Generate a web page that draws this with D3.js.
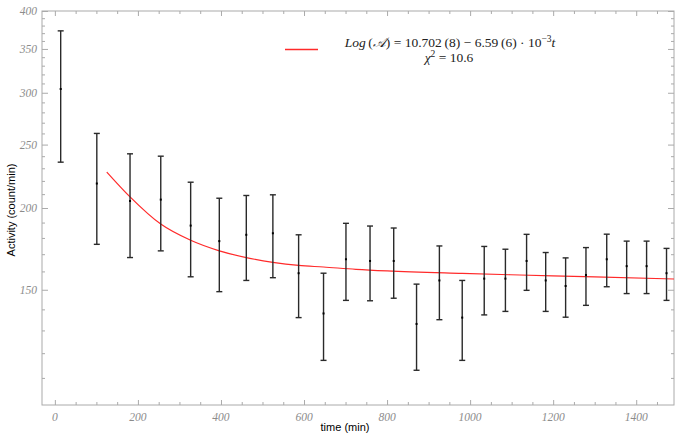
<!DOCTYPE html>
<html>
<head>
<meta charset="utf-8">
<script src="https://cdn.jsdelivr.net/npm/d3@7"></script>
<style>
  html, body { margin: 0; padding: 0; background: #fff; }
  svg { display: block; }
</style>
</head>
<body>
<svg id="chart" width="676" height="434"></svg>
<script>
// Measurement times (min), count rates (count/min) and their uncertainties
const times  = [14, 101, 181, 255, 327, 396, 461, 525, 587, 647, 701, 759, 816, 871, 926, 981, 1034, 1085, 1136, 1182, 1230, 1279, 1329, 1377, 1425, 1473];
const counts = [304, 218, 205, 206, 188, 178, 182, 183, 159, 138, 167, 166, 166, 133, 155, 136, 156, 156, 166, 155, 152, 158, 167, 163, 163, 159];
const errors = [69, 42, 37, 34, 31, 29, 27, 26.5, 23, 21, 22.5, 21.7, 20.4, 20, 20, 19, 18.7, 17, 16.3, 16, 15.8, 16, 15.4, 15, 15, 14.5];

// Fitted activity curve, sampled along t
const fitTimes  = [125, 181, 255, 327, 396, 461, 525, 587, 647, 725, 800, 981, 1120, 1300, 1491];
const fitValues = [227, 208, 189, 178.5, 172, 168, 165.2, 163.4, 162.5, 161.2, 160.3, 158.9, 158, 157, 155.8];

// Axis ticks
const xMajorTicks = [0, 200, 400, 600, 800, 1000, 1200, 1400];
const xMinorTicks = d3.range(0, 1491, 50).filter(v => v % 200 !== 0);
const yMajorTicks = [150, 200, 250, 300, 350, 400];
const yMinorTicks = d3.range(110, 400, 10).filter(v => v % 50 !== 0);

const serif = "'Liberation Serif', 'DejaVu Serif', serif";
const sans = "'Liberation Sans', Arial, sans-serif";

const svg = d3.select("#chart");
const plotLeft = 42, plotRight = 674, plotTop = 11, plotBottom = 405;

const x = d3.scaleLinear().domain([-31, 1491]).range([plotLeft, plotRight]);
const y = d3.scaleLog().domain([100, 400]).range([plotBottom, plotTop]);

const frameColor = "#aaaaaa";

// Frame
svg.append("rect")
  .attr("x", plotLeft).attr("y", plotTop)
  .attr("width", plotRight - plotLeft).attr("height", plotBottom - plotTop)
  .attr("fill", "none").attr("stroke", frameColor).attr("stroke-width", 1);

// Inward ticks on all four sides
function ticks(axisFn, scale, values, size, translate) {
  const g = svg.append("g")
    .attr("transform", translate)
    .call(axisFn(scale).tickValues(values).tickSize(size).tickFormat(""));
  g.select(".domain").remove();
  g.selectAll("line").attr("stroke", frameColor);
  return g;
}
ticks(d3.axisBottom, x, xMajorTicks, -5, `translate(0,${plotBottom})`);
ticks(d3.axisBottom, x, xMinorTicks, -3, `translate(0,${plotBottom})`);
ticks(d3.axisTop, x, xMajorTicks, -5, `translate(0,${plotTop})`);
ticks(d3.axisTop, x, xMinorTicks, -3, `translate(0,${plotTop})`);
ticks(d3.axisLeft, y, yMajorTicks, -6, `translate(${plotLeft},0)`);
ticks(d3.axisLeft, y, yMinorTicks, -3, `translate(${plotLeft},0)`);
ticks(d3.axisRight, y, yMajorTicks, -6, `translate(${plotRight},0)`);
ticks(d3.axisRight, y, yMinorTicks, -3, `translate(${plotRight},0)`);

// Tick labels
svg.append("g").selectAll("text")
  .data(xMajorTicks).join("text")
  .attr("font-family", serif).attr("font-style", "italic")
  .attr("font-size", 11.5).attr("fill", "#8c8c8c")
  .attr("x", d => x(d)).attr("y", 421)
  .attr("text-anchor", "middle")
  .text(d => d);

svg.append("g").selectAll("text")
  .data(yMajorTicks).join("text")
  .attr("font-family", serif).attr("font-style", "italic")
  .attr("font-size", 11.5).attr("fill", "#8c8c8c")
  .attr("x", 37).attr("y", d => y(d) + 4)
  .attr("text-anchor", "end")
  .text(d => d);

// Axis titles
svg.append("text")
  .attr("font-family", sans).attr("font-size", 11).attr("fill", "#000")
  .attr("x", 345).attr("y", 431)
  .attr("text-anchor", "middle")
  .text("time (min)");

svg.append("text")
  .attr("font-family", sans).attr("font-size", 11).attr("fill", "#000")
  .attr("transform", `translate(15,${210}) rotate(-90)`)
  .attr("text-anchor", "middle")
  .text("Activity (count/min)");

// Plot area clip
svg.append("clipPath").attr("id", "plot-clip")
  .append("rect").attr("x", plotLeft).attr("y", plotTop)
  .attr("width", plotRight - plotLeft).attr("height", plotBottom - plotTop);

const plot = svg.append("g").attr("clip-path", "url(#plot-clip)");

// Fit curve
const fitData = fitTimes.map((t, i) => [t, fitValues[i]]);
plot.append("path")
  .datum(fitData)
  .attr("fill", "none")
  .attr("stroke", "#ff2a2a")
  .attr("stroke-width", 1.2)
  .attr("d", d3.line().x(d => x(d[0])).y(d => y(d[1])).curve(d3.curveMonotoneX));

// Error bars
const points = times.map((t, i) => ({ t, v: counts[i], e: errors[i] }));
const bars = plot.append("g").selectAll("g").data(points).join("g");
const barColor = "#2a2a2a";
const cap = 3;
bars.append("line")
  .attr("x1", d => x(d.t)).attr("x2", d => x(d.t))
  .attr("y1", d => y(d.v + d.e)).attr("y2", d => y(d.v - d.e))
  .attr("stroke", barColor).attr("stroke-width", 1.4);
bars.append("line")
  .attr("x1", d => x(d.t) - cap).attr("x2", d => x(d.t) + cap)
  .attr("y1", d => y(d.v + d.e)).attr("y2", d => y(d.v + d.e))
  .attr("stroke", barColor).attr("stroke-width", 1.4);
bars.append("line")
  .attr("x1", d => x(d.t) - cap).attr("x2", d => x(d.t) + cap)
  .attr("y1", d => y(d.v - d.e)).attr("y2", d => y(d.v - d.e))
  .attr("stroke", barColor).attr("stroke-width", 1.4);
bars.append("rect")
  .attr("x", d => x(d.t) - 1).attr("y", d => y(d.v) - 1)
  .attr("width", 2).attr("height", 2)
  .attr("fill", "#000");

// Legend
svg.append("line")
  .attr("x1", 285).attr("x2", 318).attr("y1", 49.5).attr("y2", 49.5)
  .attr("stroke", "#ff2a2a").attr("stroke-width", 1.4);

const eq = svg.append("text")
  .attr("font-family", serif).attr("font-size", 13.5).attr("fill", "#222")
  .attr("x", 450).attr("y", 47).attr("text-anchor", "middle");
eq.append("tspan").attr("font-style", "italic").text("Log");
eq.append("tspan").text("\u2009(");
eq.append("tspan").attr("font-style", "italic").text("\u{1D49C}");
eq.append("tspan").text(") = 10.702\u2009(8) \u2212 6.59\u2009(6) \u00B7 10");
eq.append("tspan").attr("dy", -5).attr("font-size", 9.5).text("\u22123");
eq.append("tspan").attr("dy", 5).attr("font-style", "italic").text("t");

const chi = svg.append("text")
  .attr("font-family", serif).attr("font-size", 13.5).attr("fill", "#222")
  .attr("x", 449).attr("y", 62).attr("text-anchor", "middle");
chi.append("tspan").attr("font-style", "italic").text("\u03C7");
chi.append("tspan").attr("dy", -5).attr("font-size", 9.5).text("2");
chi.append("tspan").attr("dy", 5).text(" = 10.6");
</script>
</body>
</html>
